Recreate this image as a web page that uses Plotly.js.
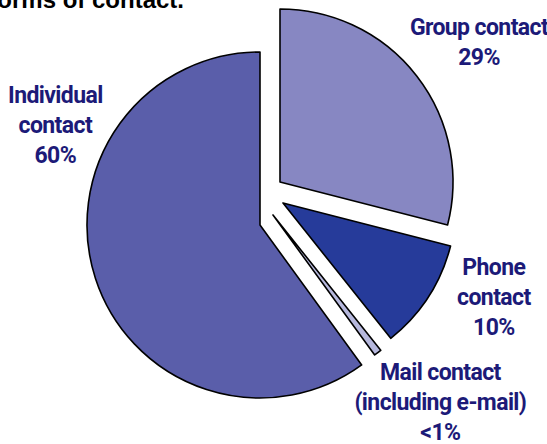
<!DOCTYPE html>
<html>
<head>
<meta charset="utf-8">
<script src="https://cdn.plot.ly/plotly-3.0.1.min.js"></script>
<style>
  html, body { margin: 0; padding: 0; background: #ffffff; }
  #chart { width: 547px; height: 444px; }
  #chart .annotation-text { letter-spacing: -0.6px; }
</style>
</head>
<body>
<div id="chart"></div>
<script>
// ---- data ----
const categories = ["Group contact", "Phone contact", "Mail contact (including e-mail)", "Individual contact"];
const labelLines = ["Group contact", "Phone<br>contact", "Mail contact<br>(including e-mail)", "Individual<br>contact"];
const shares = [29.0, 10.3, 0.7, 60.0];
const shareText = ["29%", "10%", "&lt;1%", "60%"];
const titleText = "Forms of contact.";

// ---- style / layout ----
const W = 547, H = 444;
const R = 173;                               // pie radius (px)
const center = [270, 205];                   // common pie centre (px)
const explode = [[10, -23], [13, -2], [3, 10], [-10, 20]];   // per-slice offset of exploded slices (px)
const colors = ["#8787c2", "#263b9a", "#b6b8dd", "#5a5eaa"];
const labelPos = [[479, 42], [494, 297], [440, 402], [55, 125]];
const labelColor = "#1c1a78";
const labelFont = "Roboto, 'Liberation Sans Narrow', 'DejaVu Sans Condensed', sans-serif";

const traces = categories.map((cat, i) => {
  const vx = center[0] + explode[i][0];
  const vy = center[1] + explode[i][1];
  return {
    type: "pie",
    labels: categories,
    values: shares,
    sort: false,
    direction: "clockwise",
    rotation: 0,
    textinfo: "none",
    hoverinfo: "label+percent",
    showlegend: false,
    domain: {
      x: [(vx - R) / W, (vx + R) / W],
      y: [1 - (vy + R) / H, 1 - (vy - R) / H]
    },
    marker: {
      colors: colors.map((c, j) => (j === i ? c : "rgba(0,0,0,0)")),
      line: { color: "#000000", width: categories.map((c, j) => (j === i ? 1.6 : 0)) }
    }
  };
});

const annotations = categories.map((cat, i) => ({
  xref: "paper", yref: "paper",
  x: labelPos[i][0] / W,
  y: 1 - labelPos[i][1] / H,
  xanchor: "center", yanchor: "middle",
  align: "center",
  showarrow: false,
  text: labelLines[i] + "<br>" + shareText[i],
  font: { family: labelFont, size: 23, color: labelColor, weight: "bold" }
}));

const layout = {
  width: W, height: H,
  margin: { l: 0, r: 0, t: 0, b: 0 },
  paper_bgcolor: "#ffffff",
  plot_bgcolor: "#ffffff",
  showlegend: false,
  title: {
    text: "<b>" + titleText + "</b>",
    xref: "container", yref: "container",
    x: 184 / W, xanchor: "right",
    y: 1, yanchor: "middle",
    font: { family: "'Liberation Sans', Arial, sans-serif", size: 24, color: "#000000" }
  },
  annotations: annotations
};

Plotly.newPlot("chart", traces, layout, { displayModeBar: false, staticPlot: true });
</script>
</body>
</html>
